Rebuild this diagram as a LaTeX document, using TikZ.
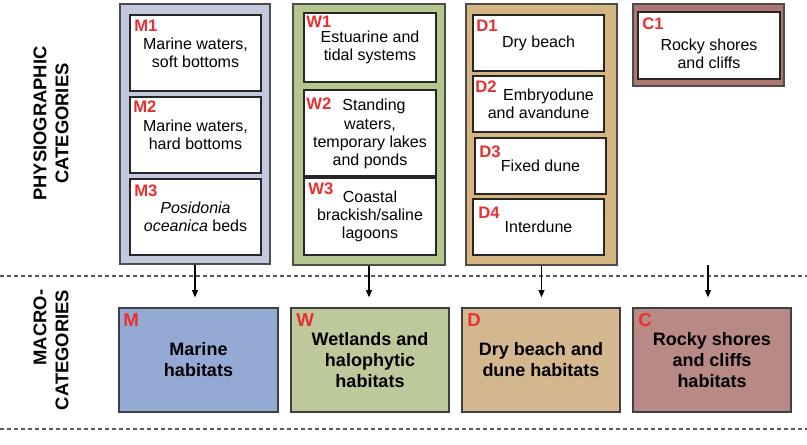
\documentclass[tikz,border=0pt]{standalone}
\usepackage{fontspec}
\setmainfont{Liberation Sans}
\usetikzlibrary{fit,arrows.meta}
\definecolor{codered}{HTML}{E83030}
\definecolor{mouter}{HTML}{C4C8DC}
\definecolor{wouter}{HTML}{B6C68F}
\definecolor{douter}{HTML}{D5B683}
\definecolor{couter}{HTML}{AE7670}
\definecolor{mmacro}{HTML}{95A9D5}
\definecolor{wmacro}{HTML}{BDC89B}
\definecolor{dmacro}{HTML}{D4B78F}
\definecolor{cmacro}{HTML}{B88985}
\newcommand\mybox[6]{\node[#2, fit={(#3,#4) (#5,#6)}] (#1) {};}
\begin{document}
\begin{tikzpicture}[x=0.75pt,y=-0.75pt,
  outerbox/.style={draw=black!70, line width=1.1pt, inner sep=0pt},
  innerbox/.style={draw=black!85, fill=white, line width=1pt, inner sep=0pt},
  macrobox/.style={draw=black!75, line width=1pt, inner sep=0pt},
  code/.style={text=codered, font=\fontsize{12.5}{14}\selectfont\bfseries, inner sep=0pt, anchor=west},
  macrocode/.style={text=codered, font=\fontsize{14}{16}\selectfont\bfseries, inner sep=0pt, anchor=west},
  txt/.style={font=\fontsize{12}{13.75}\selectfont, align=center, inner sep=0pt},
  macrotxt/.style={font=\fontsize{13.5}{15.75}\selectfont\bfseries, align=center, inner sep=0pt},
  sidetxt/.style={font=\fontsize{13.8}{16.5}\selectfont\bfseries, rotate=90, inner sep=0pt},
  arr/.style={-{Triangle[length=5.5pt,width=4.5pt]}, line width=0.9pt, shorten >=7.5pt},
  sep/.style={draw=black!65, line width=0.8pt, dash pattern=on 3pt off 2.25pt}
]
\path[use as bounding box, fill=white] (0,0) rectangle (807,444);

% separators
\coordinate (s1a) at (0,276); \coordinate (s1b) at (807,276);
\coordinate (s2a) at (0,429); \coordinate (s2b) at (807,429);
\draw[sep] (s1a) -- (s1b);
\draw[sep] (s2a) -- (s2b);

% side labels
\node[sidetxt, align=center] (phys) at (51,123.5) {PHYSIOGRAPHIC\\CATEGORIES};
\node[sidetxt, align=right] (macl) at (51,350) {MACRO-\\CATEGORIES};

% outer boxes
\mybox{mo}{outerbox, fill=mouter}{120}{4}{270}{264}
\mybox{wo}{outerbox, fill=wouter}{293}{4}{445}{265}
\mybox{do}{outerbox, fill=douter}{466}{4}{617}{265}
\mybox{co}{outerbox, fill=couter}{633}{4}{784}{86}

% inner boxes
\mybox{m1}{innerbox}{130}{15}{261}{91}
\mybox{m2}{innerbox}{130}{97}{261}{173}
\mybox{m3}{innerbox}{130}{179}{261}{255}
\mybox{w1}{innerbox}{304}{13}{436}{82}
\mybox{w2}{innerbox}{304}{90}{436}{176}
\mybox{w3}{innerbox}{304}{178}{436}{255}
\mybox{d1}{innerbox}{473}{15}{604}{71}
\mybox{d2}{innerbox}{473}{76}{604}{132}
\mybox{d3}{innerbox}{475}{138}{606}{194}
\mybox{d4}{innerbox}{473}{199}{604}{255}
\mybox{c1}{innerbox}{638}{12}{780}{79}

% codes
\node[code] (m1c) at (134,26) {M1};
\node[code] (m2c) at (133,107) {M2};
\node[code] (m3c) at (134,191) {M3};
\node[code] (w1c) at (306,21.5) {W1};
\node[code] (w2c) at (306,104) {W2};
\node[code] (w3c) at (308,189) {W3};
\node[code] (d1c) at (476,26) {D1};
\node[code] (d2c) at (475,87) {D2};
\node[code] (d3c) at (479,152) {D3};
\node[code] (d4c) at (478,213) {D4};
\node[code] (c1c) at (642,24) {C1};

% texts
\node[txt] (m1t) at (m1.center) {Marine waters,\\soft bottoms};
\node[txt] (m2t) at (m2.center) {Marine waters,\\hard bottoms};
\node[txt] (m3t) at (m3.center) {\textit{Posidonia}\\\textit{oceanica} beds};
\node[txt] (w1t) at (w1.center) {Estuarine and\\tidal systems};
\node[txt] (w2t) at ([yshift=-1]w2.center) {\hspace*{6pt}Standing\\waters,\\temporary lakes\\and ponds};
\node[txt] (w3t) at (w3.center) {Coastal\\brackish/saline\\lagoons};
\node[txt] (d1t) at (d1.center) {Dry beach};
\node[txt] (d2t) at (d2.center) {\hspace*{15pt}Embryodune\\and avandune};
\node[txt] (d3t) at (d3.center) {Fixed dune};
\node[txt] (d4t) at (d4.center) {Interdune};
\node[txt] (c1t) at (709,54) {Rocky shores\\and cliffs};

% macro boxes
\mybox{mm}{macrobox, fill=mmacro}{119}{308}{278}{412}
\mybox{wm}{macrobox, fill=wmacro}{291}{308}{449}{412}
\mybox{dm}{macrobox, fill=dmacro}{462}{308}{620}{412}
\mybox{cm}{macrobox, fill=cmacro}{633}{308}{791}{412}

\node[macrocode] (mmc) at (123,320) {M};
\node[macrocode] (wmc) at (296,320) {W};
\node[macrocode] (dmc) at (467,320) {D};
\node[macrocode] (cmc) at (638,320) {C};

\node[macrotxt] (mmt) at (mm.center) {Marine\\habitats};
\node[macrotxt] (wmt) at (wm.center) {Wetlands and\\halophytic\\habitats};
\node[macrotxt] (dmt) at (dm.center) {Dry beach and\\dune habitats};
\node[macrotxt] (cmt) at (cm.center) {Rocky shores\\and cliffs\\habitats};

% arrows
\coordinate (ca) at (708,265);
\draw[arr] (mo.south) -- (mo.south |- mm.north);
\draw[arr] (wo.south) -- (wo.south |- wm.north);
\draw[arr] (do.south) -- (do.south |- dm.north);
\draw[arr] (ca) -- (ca |- cm.north);
\end{tikzpicture}
\end{document}
